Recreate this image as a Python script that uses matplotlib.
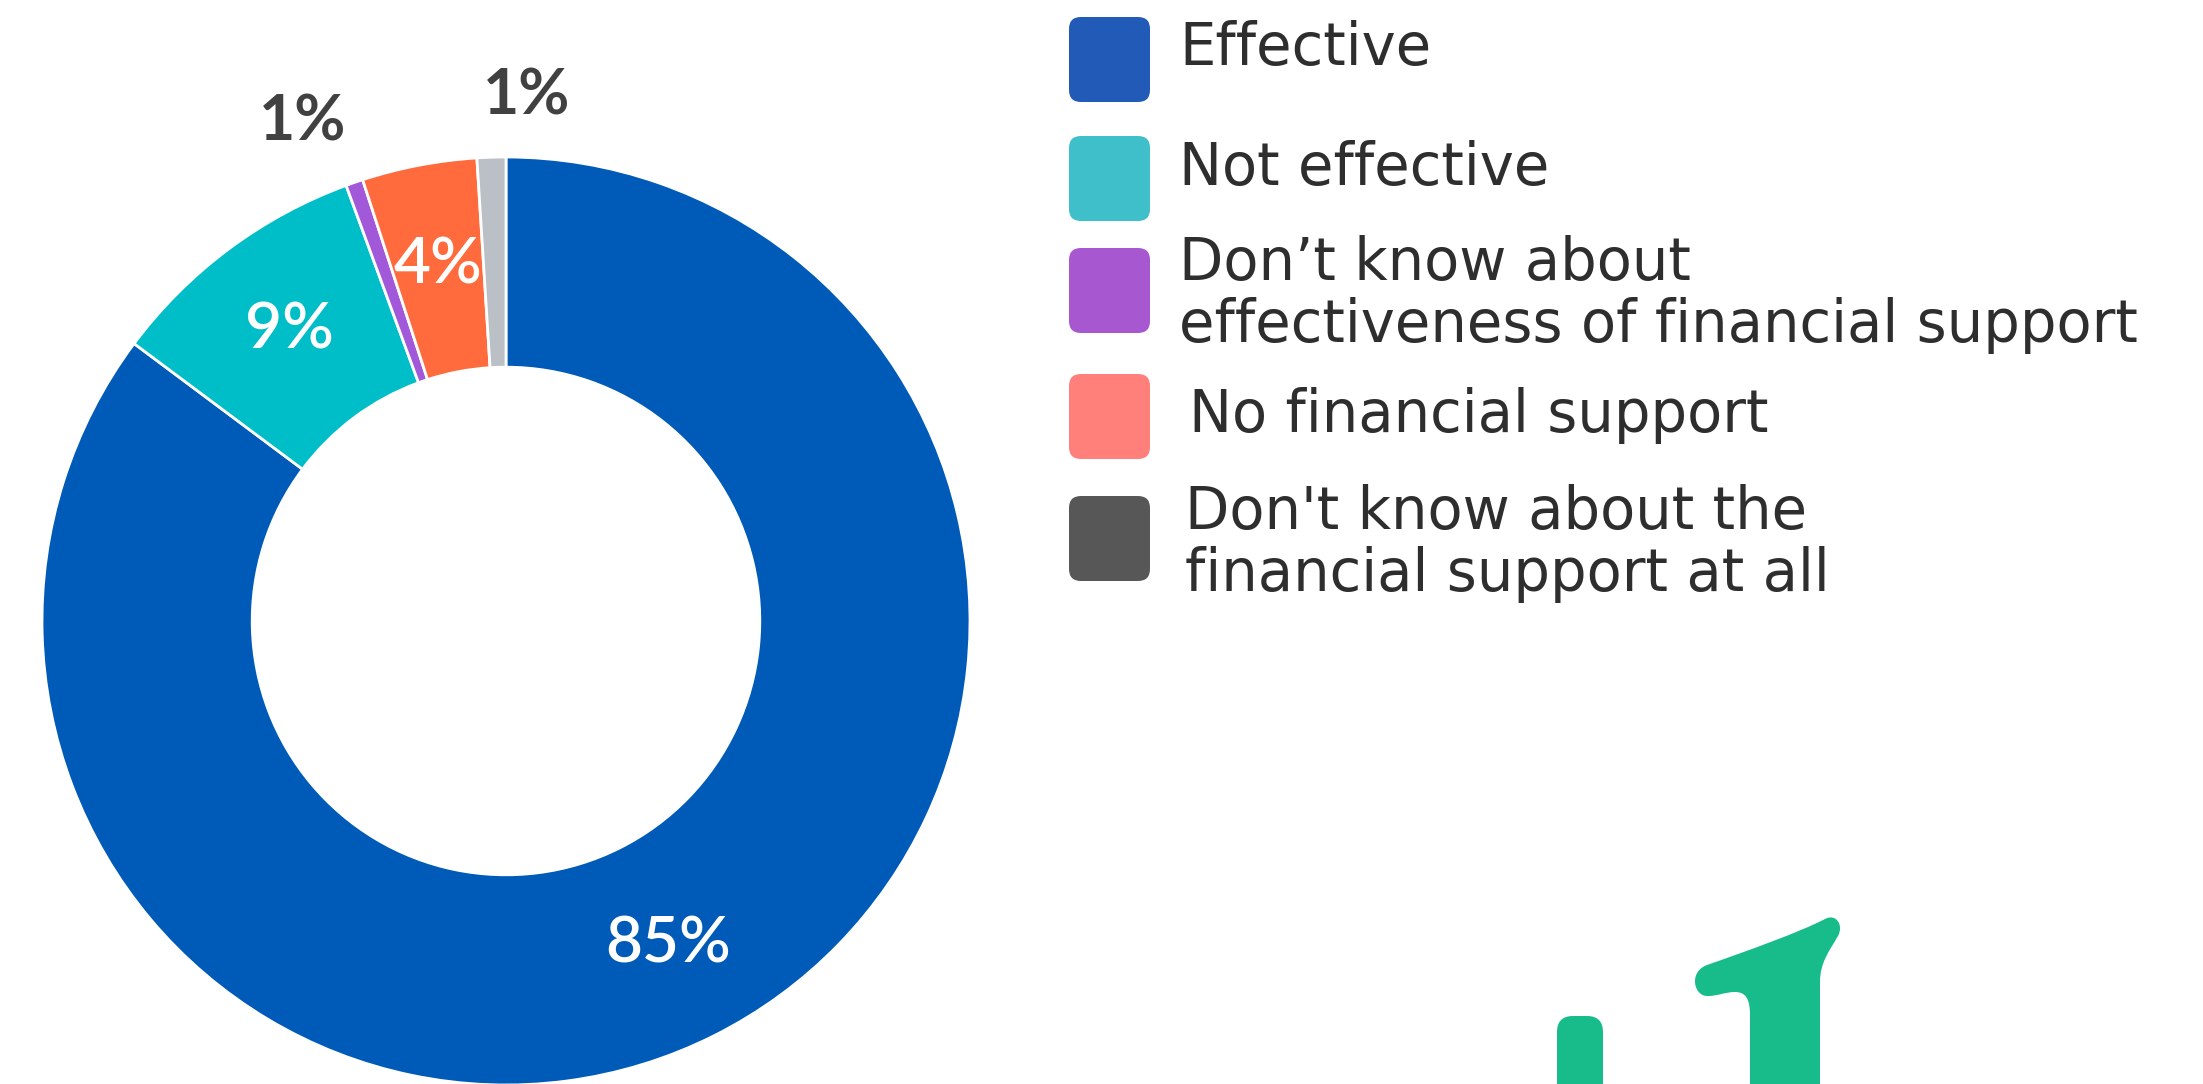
import numpy as np
import matplotlib
matplotlib.use('Agg')
import matplotlib.pyplot as plt
from matplotlib.patches import FancyBboxPatch, PathPatch
from matplotlib.path import Path

# survey answers, in legend order
categories = ['Effective', 'Not effective',
              'Don\u2019t know about\neffectiveness of financial support',
              'No financial support',
              "Don't know about the\nfinancial support at all"]
shares = [85.2, 9.2, 0.6, 4.0, 1.0]

WEDGE_COLORS = ['#005AB8', '#00BEC8', '#A259D9', '#FF6B3D', '#BAC0C5']
LEGEND_COLORS = ['#215BB7', '#3FBFCA', '#A757D0', '#FF7F7A', '#575757']
TEXT_DARK = '#2E2E2E'
LABEL_DARK = '#414141'
GREEN = '#18BC8A'

W, H = 2203, 1084
plt.rcParams['font.family'] = ['Lato', 'DejaVu Sans']

fig = plt.figure(figsize=(W / 100, H / 100), dpi=100)
fig.patch.set_facecolor('white')

# donut: centre (506, 621) px, outer radius 464 px
cx, cy, R = 506, 621, 464
ax = fig.add_axes([(cx - R) / W, (H - cy - R) / H, 2 * R / W, 2 * R / H])
wedges, _ = ax.pie(shares, colors=WEDGE_COLORS, startangle=90, counterclock=False,
                   radius=1,
                   wedgeprops=dict(width=0.453, edgecolor='white', linewidth=2))
ax.set_xlim(-1, 1)
ax.set_ylim(-1, 1)
ax.set_aspect('equal')
ax.axis('off')

# small slices get their label outside the ring
outer_r = [0, 0, 1.16, 0, 1.132]
outer_nudge = [0, 0, 3.1, 0, -4.0]   # degrees
for w, v, r_o, nd in zip(wedges, shares, outer_r, outer_nudge):
    mid = np.deg2rad((w.theta1 + w.theta2) / 2 + nd)
    txt = f'{round(v)}%'
    if v >= 2:
        ax.text(0.78 * np.cos(mid), 0.78 * np.sin(mid), txt, ha='center', va='center',
                fontsize=46, fontweight='semibold', color='white', clip_on=False)
    else:
        ax.text(r_o * np.cos(mid), r_o * np.sin(mid), txt, ha='center', va='center',
                fontsize=45, fontweight='bold', color=LABEL_DARK, clip_on=False)

# overlay in pixel coords for the legend and the logo fragment
ov = fig.add_axes([0, 0, 1, 1])
ov.set_xlim(0, W)
ov.set_ylim(H, 0)
ov.axis('off')

sw_top = [17, 136, 248, 374, 496]
first_base = [65, 185, 280, 432, 529]
text_x = [1179, 1179, 1179, 1189, 1185]
for i, lab in enumerate(categories):
    ov.add_patch(FancyBboxPatch((1069, sw_top[i]), 81, 85,
                                boxstyle='round,pad=0,rounding_size=12',
                                facecolor=LEGEND_COLORS[i], edgecolor='none'))
    for j, line in enumerate(lab.split('\n')):
        ov.text(text_x[i], first_base[i] + 62 * j, line, ha='left', va='baseline',
                fontsize=41.5, family='DejaVu Sans', color=TEXT_DARK)

# green logo fragment, bottom right
ov.add_patch(FancyBboxPatch((1557, 1016), 46, 120,
                            boxstyle='round,pad=0,rounding_size=16',
                            facecolor=GREEN, edgecolor='none'))
verts = [(1750, 1090), (1750, 1015),
         (1750, 998), (1745, 992), (1735, 992),
         (1725, 992), (1718, 996), (1708, 996),
         (1694, 997), (1688, 972), (1707, 965),
         (1750, 950), (1800, 932), (1825, 919),
         (1836, 913), (1844, 925), (1838, 936),
         (1830, 950), (1820, 962), (1820, 982),
         (1820, 1090), (1750, 1090)]
codes = [Path.MOVETO, Path.LINETO,
         Path.CURVE4, Path.CURVE4, Path.CURVE4,
         Path.CURVE4, Path.CURVE4, Path.CURVE4,
         Path.CURVE4, Path.CURVE4, Path.CURVE4,
         Path.CURVE4, Path.CURVE4, Path.CURVE4,
         Path.CURVE4, Path.CURVE4, Path.CURVE4,
         Path.CURVE4, Path.CURVE4, Path.CURVE4,
         Path.LINETO, Path.CLOSEPOLY]
ov.add_patch(PathPatch(Path(verts, codes), facecolor=GREEN, edgecolor='none'))

fig.savefig('out.png', dpi=100, facecolor='white')
